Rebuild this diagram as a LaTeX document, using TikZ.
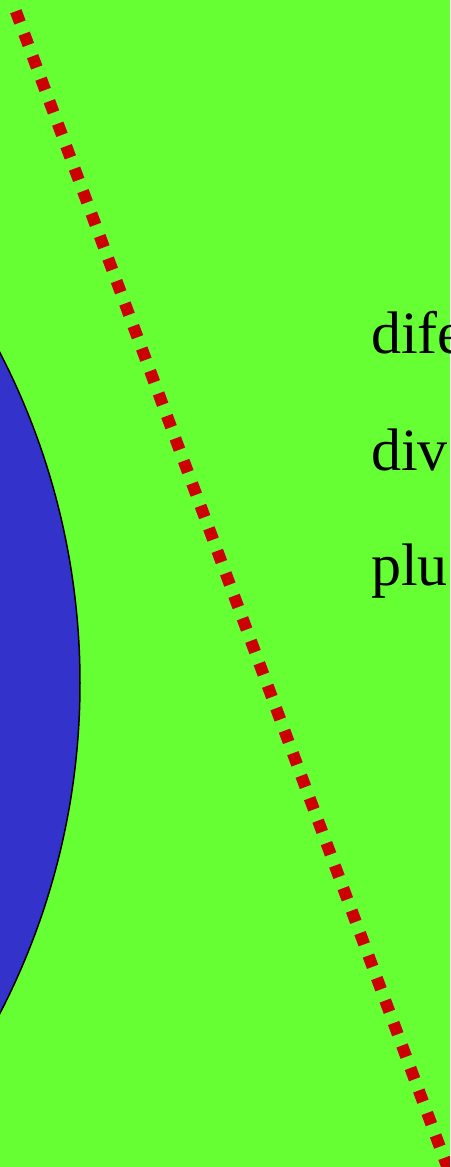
\documentclass[tikz,border=0pt]{standalone}
\usepackage{fontspec}
\setmainfont{Liberation Serif}
\definecolor{bgGreen}{HTML}{66FF33}
\definecolor{discBlue}{HTML}{3333CC}
\definecolor{dotRed}{HTML}{CC0000}
\begin{document}
\begin{tikzpicture}[x=1pt,y=-1pt,
  txt/.style={anchor=base west,inner sep=0pt,font=\fontsize{60}{72}\selectfont},
  redDots/.style={draw=dotRed,line width=12pt,dash pattern=on 12pt off 12pt,dash phase=12pt}]
\useasboundingbox (0,0) rectangle (450,1167);
\clip (0,0) rectangle (450,1167);
\fill[bgGreen] (0,0) rectangle (450,1167);
\filldraw[fill=discBlue,draw=black,line width=1.5pt] (-640,683) circle (720pt);
\coordinate (lineTop) at (11.6,0);
\coordinate (lineBot) at (448.5,1170);
\draw[redDots] (lineTop) -- (lineBot);
\node[txt] (t1) at (371,353) {dife};
\node[txt] (t2) at (371,470) {div};
\node[txt] (t3) at (371,585) {plu};
\end{tikzpicture}
\end{document}
